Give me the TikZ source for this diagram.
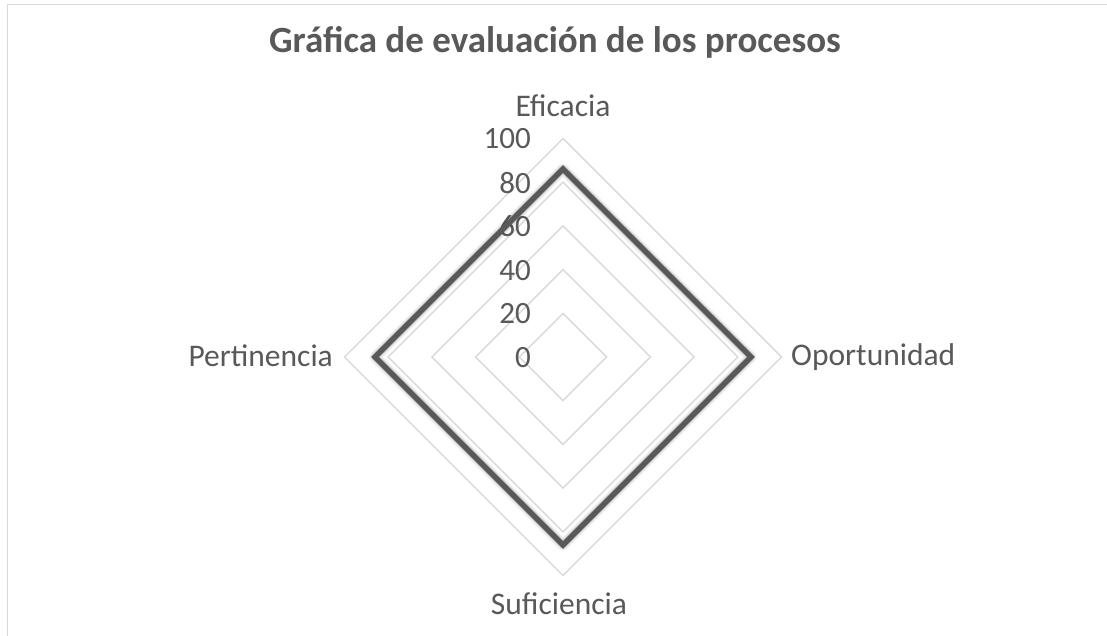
\documentclass[tikz,border=0pt]{standalone}
\usepackage{fontspec}
\setmainfont{Carlito}
\usetikzlibrary{calc}
\definecolor{txtc}{HTML}{595959}
\definecolor{gridc}{HTML}{D9D9D9}
\definecolor{seriec}{HTML}{595959}
\definecolor{framec}{HTML}{D9D9D9}
\begin{document}
\begin{tikzpicture}[x=1pt,y=-1pt,
  gridline/.style={draw=gridc, line width=1.4pt, line join=miter},
  ticklbl/.style={text=txtc, font=\fontsize{31}{37}\selectfont, inner sep=0pt, anchor=east},
  axislbl/.style={text=txtc, font=\fontsize{31.5}{37}\selectfont, inner sep=0pt},
  titlelbl/.style={text=txtc, font=\fontsize{37}{44}\selectfont\bfseries, inner sep=0pt, anchor=base},
  seriesline/.style={draw=seriec, line width=5.5pt, line join=miter},
  shadowline/.style={draw=black, line join=round}
]
\useasboundingbox (0,0) rectangle (1107,636);
\fill[white] (0,0) rectangle (1107,636);
% chart frame (top and left edges visible)
\draw[draw=framec, line width=1.4pt] (7.7,636) -- (7.7,4.5) -- (1107,4.5);

% title
\node[titlelbl] (title) at (555,52.7) {Gráfica de evaluación de los procesos};

% grid
\coordinate (C) at (563,357);
\foreach \r in {43.7,87.4,131.1,174.8,218.5} {
  \draw[gridline] (563,{357-\r}) -- ({563+\r},357) -- (563,{357+\r}) -- ({563-\r},357) -- cycle;
}

% tick labels
\node[ticklbl] (t0)   at (531,357.5) {0};
\node[ticklbl] (t20)  at (531,313.8) {20};
\node[ticklbl] (t40)  at (531,270.1) {40};
\node[ticklbl] (t60)  at (531,226.4) {60};
\node[ticklbl] (t80)  at (531,182.7) {80};
\node[ticklbl] (t100) at (531,139.0) {100};

% axis labels
\node[axislbl, anchor=base] (eficacia) at (563,117) {Eficacia};
\node[axislbl, anchor=base west] (oportunidad) at (791,365) {Oportunidad};
\node[axislbl, anchor=base] (suficiencia) at (559,614) {Suficiencia};
\node[axislbl, anchor=base east] (pertinencia) at (333,366) {Pertinencia};

% data series
\coordinate (dE) at (563,169.1);
\coordinate (dO) at (750.9,357);
\coordinate (dS) at (563,544.9);
\coordinate (dP) at (375.1,357);
\begin{scope}[shift={(2.5,2.5)}]
  \draw[shadowline, line width=12pt, opacity=0.04] (dE) -- (dO) -- (dS) -- (dP) -- cycle;
  \draw[shadowline, line width=9.5pt, opacity=0.06] (dE) -- (dO) -- (dS) -- (dP) -- cycle;
  \draw[shadowline, line width=7pt, opacity=0.09] (dE) -- (dO) -- (dS) -- (dP) -- cycle;
\end{scope}
\draw[seriesline] (dE) -- (dO) -- (dS) -- (dP) -- cycle;
\end{tikzpicture}
\end{document}
